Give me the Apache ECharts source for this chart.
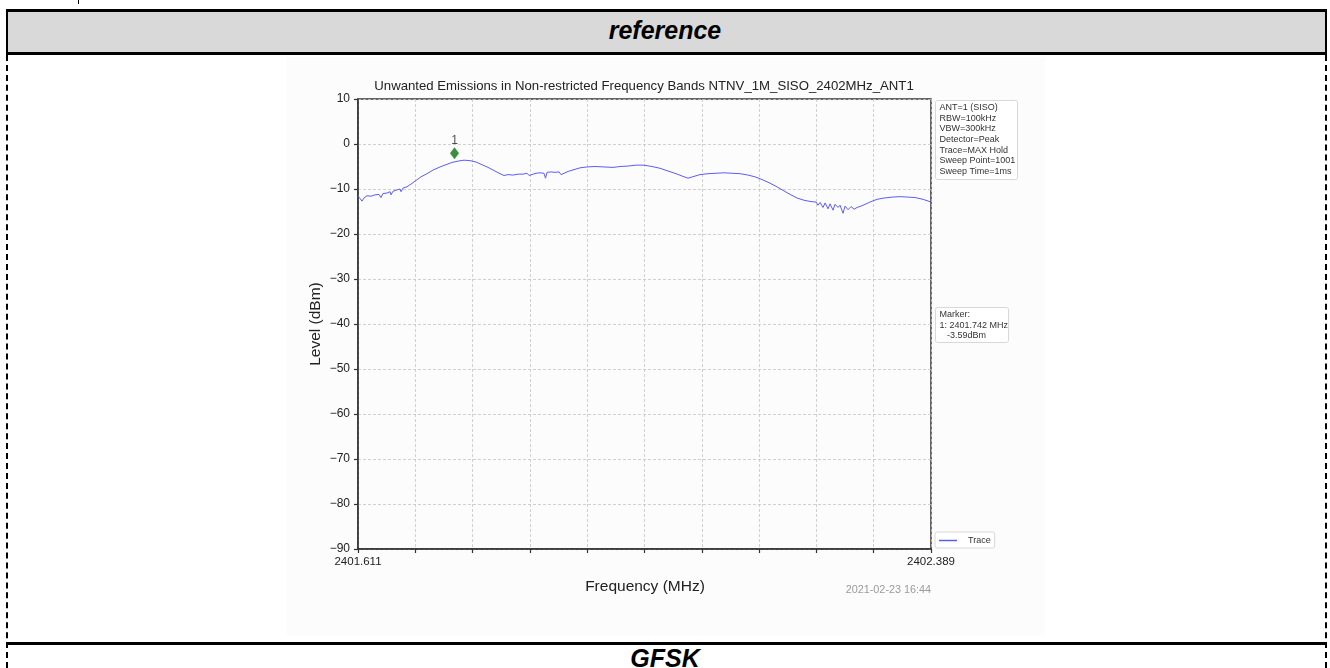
<!DOCTYPE html>
<html>
<head>
<meta charset="utf-8">
<script src="https://cdn.jsdelivr.net/npm/echarts@6/dist/echarts.min.js"></script>
<style>
  html, body { margin: 0; padding: 0; background: #ffffff; }
  body { width: 1330px; height: 668px; position: relative; overflow: hidden; font-family: "Liberation Sans", Arial, sans-serif; }
  .abs { position: absolute; }
  #hdr { left: 6px; top: 9px; width: 1317px; height: 40px; background: #d9d9d9; border-top: 3px solid #000; border-bottom: 3px solid #000; border-left: 2px solid #000; border-right: 2px solid #000; }
  .cap { font-weight: bold; font-style: italic; font-size: 25px; color: #000; text-align: center; width: 1330px; left: 0; }
  #lb { left: 6px; top: 55px; width: 0; height: 613px; border-left: 2px dashed #000; }
  #rb { left: 1325px; top: 55px; width: 0; height: 613px; border-left: 2px dashed #000; }
  #bl { left: 6px; top: 642px; width: 1321px; height: 3px; background: #000; }
  #img { left: 287px; top: 57px; width: 758px; height: 579px; background: #fcfcfc; }
  #tick0 { left: 78px; top: 0; width: 1px; height: 4px; background: #000; }
  #chart { left: 0; top: 0; width: 1330px; height: 668px; }
</style>
</head>
<body>
<div class="abs" id="tick0"></div>
<div class="abs" id="hdr"></div>
<div class="abs cap" style="top:16px;">reference</div>
<div class="abs" id="lb"></div>
<div class="abs" id="rb"></div>
<div class="abs" id="img"></div>
<div class="abs" id="bl"></div>
<div class="abs cap" style="top:644px;">GFSK</div>
<div class="abs" id="chart"></div>
<script>
// ---- data ----
const chartTitle = "Unwanted Emissions in Non-restricted Frequency Bands NTNV_1M_SISO_2402MHz_ANT1";
const xName = "Frequency (MHz)";
const yName = "Level (dBm)";
const xMin = 2401.611;
const xMax = 2402.389;
const yMin = -90;
const yMax = 10;
const yStep = 10;
const xDivisions = 10;
const timestamp = "2021-02-23 16:44";
const settingsText = ["ANT=1 (SISO)", "RBW=100kHz", "VBW=300kHz", "Detector=Peak", "Trace=MAX Hold", "Sweep Point=1001", "Sweep Time=1ms"];
const markerText = ["Marker:", "1: 2401.742 MHz", "   -3.59dBm"];
const markerFreq = [2401.742];
const markerLevel = [-3.59];
const markerLabels = ["1"];

const freqMHz = [
  2401.6110, 2401.6137, 2401.6164, 2401.6191, 2401.6232, 2401.6287, 2401.6341, 2401.6395, 2401.6422, 2401.6449,
  2401.6504, 2401.6545, 2401.6558, 2401.6585, 2401.6640, 2401.6680, 2401.6694, 2401.6721, 2401.6775, 2401.6830,
  2401.6898, 2401.6965, 2401.7047, 2401.7128, 2401.7223, 2401.7305, 2401.7386, 2401.7468, 2401.7549, 2401.7631,
  2401.7712, 2401.7794, 2401.7875, 2401.7957, 2401.8038, 2401.8092, 2401.8147, 2401.8215, 2401.8283, 2401.8350,
  2401.8405, 2401.8432, 2401.8459, 2401.8527, 2401.8581, 2401.8635, 2401.8656, 2401.8677, 2401.8731, 2401.8785,
  2401.8839, 2401.8867, 2401.8894, 2401.8962, 2401.9043, 2401.9124, 2401.9219, 2401.9328, 2401.9450, 2401.9572,
  2401.9668, 2401.9776, 2401.9885, 2401.9993, 2402.0102, 2402.0211, 2402.0319, 2402.0428, 2402.0523, 2402.0591,
  2402.0672, 2402.0754, 2402.0862, 2402.0971, 2402.1080, 2402.1188, 2402.1297, 2402.1406, 2402.1501, 2402.1596,
  2402.1691, 2402.1786, 2402.1881, 2402.1976, 2402.2071, 2402.2166, 2402.2261, 2402.2329, 2402.2356, 2402.2384,
  2402.2424, 2402.2452, 2402.2492, 2402.2519, 2402.2560, 2402.2587, 2402.2628, 2402.2655, 2402.2696, 2402.2723,
  2402.2764, 2402.2805, 2402.2845, 2402.2886, 2402.2940, 2402.3008, 2402.3076, 2402.3158, 2402.3253, 2402.3362,
  2402.3470, 2402.3579, 2402.3674, 2402.3783, 2402.3891
];
const levelDbm = [
  -11.6, -12.1, -12.7, -12.0, -11.5, -11.6, -11.3, -11.2, -11.9, -11.0,
  -10.9, -10.6, -11.3, -10.5, -10.2, -10.0, -10.6, -9.8, -9.5, -8.9,
  -8.1, -7.3, -6.6, -5.8, -5.1, -4.6, -4.1, -3.8, -3.6, -3.7,
  -4.0, -4.6, -5.2, -5.9, -6.6, -7.0, -6.8, -6.9, -6.7, -6.7,
  -6.5, -7.0, -6.6, -6.5, -6.4, -6.5, -7.6, -6.3, -6.2, -6.3,
  -6.2, -6.8, -6.4, -6.1, -5.7, -5.3, -5.1, -5.0, -5.1, -5.2,
  -5.0, -4.9, -4.7, -4.7, -5.0, -5.4, -6.0, -6.6, -7.2, -7.6,
  -7.2, -6.8, -6.6, -6.5, -6.4, -6.5, -6.6, -6.9, -7.3, -7.9,
  -8.6, -9.4, -10.3, -11.2, -12.0, -12.5, -12.8, -12.9, -13.6, -13.0,
  -14.1, -13.1, -14.4, -13.3, -14.7, -13.4, -14.1, -13.6, -15.4, -13.8,
  -14.6, -13.9, -14.5, -14.1, -13.8, -13.3, -12.8, -12.3, -12.0, -11.8,
  -11.7, -11.8, -11.9, -12.3, -12.9
];

// ---- chart ----
const FONT = '"Liberation Sans", Arial, sans-serif';
const TRACE_COLOR = '#5c5cf6';
const chart = echarts.init(document.getElementById('chart'), null, { renderer: 'canvas' });
const traceData = freqMHz.map((f, i) => [f, levelDbm[i]]);
const markerData = markerFreq.map((f, i) => ({ value: [f, markerLevel[i]], label: { formatter: markerLabels[i] } }));
const xInterval = (xMax - xMin) / xDivisions;
const near = (a, b) => Math.abs(a - b) < 1e-6;

function textBox(x, y, lines, w, h) {
  return {
    type: 'group', left: x, top: y,
    children: [
      { type: 'rect', shape: { x: 0, y: 0, width: w, height: h, r: 2 },
        style: { fill: '#ffffff', stroke: '#d8d8d8', lineWidth: 1 } },
      { type: 'text', left: 4, top: 2,
        style: { text: lines.join('\n'), font: '9px ' + FONT, fill: '#333', lineHeight: 10.6 } }
    ]
  };
}

chart.setOption({
  animation: false,
  backgroundColor: 'transparent',
  grid: { left: 358, top: 99, width: 573, height: 450, show: true, borderColor: '#333', borderWidth: 1.5, backgroundColor: 'transparent' },
  legend: {
    data: [{ name: 'Trace', icon: 'rect', itemStyle: { color: TRACE_COLOR } }],
    left: 935, top: 532, orient: 'vertical',
    backgroundColor: '#fff', borderColor: '#d8d8d8', borderWidth: 1, borderRadius: 2,
    padding: [4, 4, 3, 4], itemWidth: 18, itemHeight: 1.5, itemGap: 4,
    textStyle: { fontFamily: FONT, fontSize: 9, color: '#333', padding: [0, 0, 0, 6] }
  },
  xAxis: {
    type: 'value', min: xMin, max: xMax, interval: xInterval,
    axisLine: { show: true, onZero: false, lineStyle: { color: '#333', width: 1.5 } },
    axisTick: { show: true, length: 4, lineStyle: { color: '#333', width: 1.2 } },
    axisLabel: {
      margin: 7, fontFamily: FONT, fontSize: 11.5, color: '#222',
      showMinLabel: true, showMaxLabel: true,
      formatter: v => (near(v, xMin) || near(v, xMax)) ? v.toFixed(3) : ''
    },
    splitLine: { show: true, lineStyle: { color: '#c4c4c4', type: [3, 2], width: 0.8 } }
  },
  yAxis: {
    type: 'value', min: yMin, max: yMax, interval: yStep,
    axisLine: { show: true, onZero: false, lineStyle: { color: '#333', width: 1.5 } },
    axisTick: { show: true, length: 4, lineStyle: { color: '#333', width: 1.2 } },
    axisLabel: {
      margin: 8, fontFamily: FONT, fontSize: 12, color: '#222',
      formatter: v => (v < 0 ? '\u2212' + Math.abs(v) : String(v))
    },
    splitLine: { show: true, lineStyle: { color: '#c4c4c4', type: [3, 2], width: 0.8 } }
  },
  series: [
    {
      name: 'Trace', type: 'line', data: traceData, showSymbol: false, symbol: 'none',
      lineStyle: { color: TRACE_COLOR, width: 1 }, itemStyle: { color: TRACE_COLOR }, z: 3
    },
    {
      name: 'Marker', type: 'scatter', data: markerData, symbol: 'diamond', symbolSize: [9, 12],
      symbolOffset: [0, -7], itemStyle: { color: '#0a760a' }, z: 4,
      label: { show: true, position: 'top', distance: 0, fontFamily: FONT, fontSize: 12, color: '#222' }
    }
  ],
  graphic: [
    { type: 'text', x: 644, y: 86, style: { text: chartTitle, font: '13.2px ' + FONT, fill: '#222', textAlign: 'center', textVerticalAlign: 'middle' } },
    { type: 'text', x: 645, y: 587, style: { text: xName, font: '15.5px ' + FONT, fill: '#222', textAlign: 'center', textVerticalAlign: 'middle' } },
    { type: 'text', x: 316, y: 324, rotation: Math.PI / 2, style: { text: yName, font: '15.5px ' + FONT, fill: '#222', textAlign: 'center', textVerticalAlign: 'middle' } },
    { type: 'text', x: 931, y: 590, style: { text: timestamp, font: '10.8px ' + FONT, fill: '#9a9a9a', textAlign: 'right', textVerticalAlign: 'middle' } },
    textBox(935, 100, settingsText, 82, 79),
    textBox(935, 307, markerText, 73, 35)
  ]
});
</script>
</body>
</html>
